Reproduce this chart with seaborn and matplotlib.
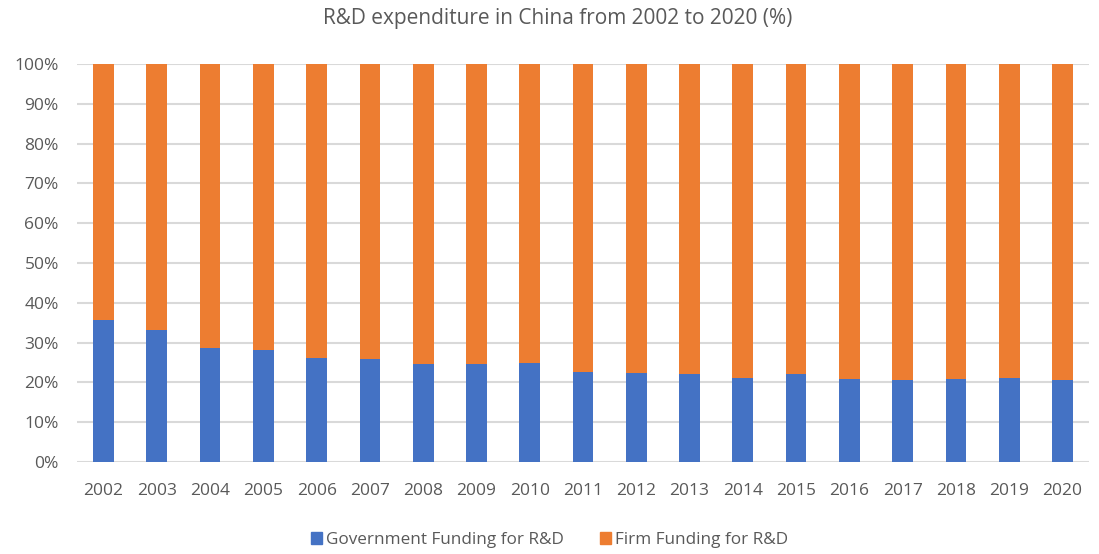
import matplotlib
matplotlib.use("Agg")
import matplotlib.pyplot as plt
import seaborn as sns
import pandas as pd
from matplotlib.ticker import PercentFormatter
from matplotlib.patches import Patch

# --- Data ---
years = [str(y) for y in range(2002, 2021)]
gov_share = [35.8, 33.2, 28.7, 28.1, 26.2, 25.9, 24.6, 24.6, 25.0, 22.7,
             22.4, 22.1, 21.1, 22.1, 20.8, 20.5, 20.8, 21.1, 20.5]
firm_share = [64.2, 66.8, 71.3, 71.9, 73.8, 74.1, 75.4, 75.4, 75.0, 77.3,
              77.6, 77.9, 78.9, 77.9, 79.2, 79.5, 79.2, 78.9, 79.5]
series_names = ["Government Funding for R&D", "Firm Funding for R&D"]

df = pd.DataFrame({"Year": years, "Gov": gov_share, "Firm": firm_share})

BLUE = "#4472C4"
ORANGE = "#ED7D31"
TEXT = "#595959"

sns.set_theme(style="white")
plt.rcParams["font.family"] = ["Open Sans", "DejaVu Sans"]

fig = plt.figure(figsize=(10.99, 5.54), dpi=100)
ax = fig.add_axes([0.070, 0.166, 0.921, 0.7185])

# stacked bars: government at the bottom, firm on top
sns.barplot(data=df, x="Year", y="Gov", color=BLUE, width=0.39,
            saturation=1, linewidth=0, ax=ax, zorder=3)
sns.barplot(data=df, x="Year", y="Firm", bottom=df["Gov"], color=ORANGE,
            width=0.39, saturation=1, linewidth=0, ax=ax, zorder=3)

ax.set_ylim(0, 100)
ax.set_xlim(-0.5, len(years) - 0.5)
ax.set_yticks(range(0, 101, 10))
ax.yaxis.set_major_formatter(PercentFormatter(decimals=0))
ax.grid(axis="y", color="#d9d9d9", linewidth=1.5, zorder=0)
ax.set_axisbelow(True)
sns.despine(ax=ax, left=True, bottom=True)
ax.set_xlabel("")
ax.set_ylabel("")
ax.tick_params(axis="both", length=0, labelsize=12.5, colors=TEXT)
ax.tick_params(axis="x", pad=15)
ax.tick_params(axis="y", pad=13)

fig.suptitle("R&D expenditure in China from 2002 to 2020 (%)", x=0.507,
             y=0.985, fontsize=15, color=TEXT)

handles = [Patch(color=BLUE), Patch(color=ORANGE)]
fig.legend(handles, series_names, loc="center", ncol=2, frameon=False,
           bbox_to_anchor=(0.5, 14 / 554), fontsize=12.3, labelcolor=TEXT,
           handlelength=0.65, handleheight=0.65, handletextpad=0.25,
           columnspacing=2.1)

fig.savefig("out.png", dpi=100)
